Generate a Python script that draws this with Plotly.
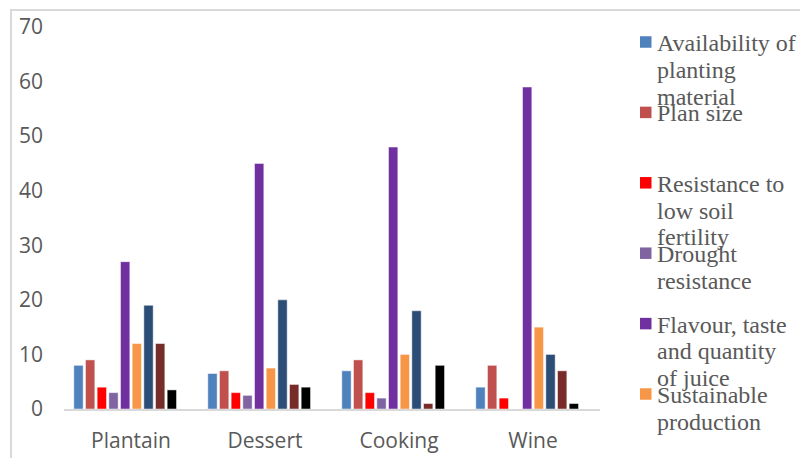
import plotly.graph_objects as go

# Banana varieties and the farmer-preference criteria scored for each
categories = ["Plantain", "Dessert", "Cooking", "Wine"]

availability_of_planting_material = [8, 6.5, 7, 4]
plan_size = [9, 7, 9, 8]
resistance_to_low_soil_fertility = [4, 3, 3, 2]
drought_resistance = [3, 2.5, 2, 0]
flavour_taste_quantity_of_juice = [27, 45, 48, 59]
sustainable_production = [12, 7.5, 10, 15]
series_7 = [19, 20, 18, 10]
series_8 = [12, 4.5, 1, 7]
series_9 = [3.5, 4, 8, 1]
series_10 = [0, 0, 0, 0]

series_values = [
    availability_of_planting_material,
    plan_size,
    resistance_to_low_soil_fertility,
    drought_resistance,
    flavour_taste_quantity_of_juice,
    sustainable_production,
    series_7,
    series_8,
    series_9,
    series_10,
]

series_colors = [
    "#4F81BD", "#C0504D", "#FF0000", "#8064A2", "#7030A0",
    "#F79646", "#2C4D75", "#772C2A", "#000000", "#4BACC6",
]

# Legend text, wrapped as in the side panel
legend_lines = [
    ["Availability of", "planting", "material"],
    ["Plan size"],
    ["Resistance to", "low soil", "fertility"],
    ["Drought", "resistance"],
    ["Flavour, taste", "and quantity", "of juice"],
    ["Sustainable", "production"],
]

y_ticks = [0, 10, 20, 30, 40, 50, 60, 70]

W, H = 800, 458
L, R, T, B = 64, 600, 27, 409


def px_x(p):
    return (p - L) / (R - L)


def px_y(p):
    return (B - p) / (B - T)


fig = go.Figure()
for vals, col in zip(series_values, series_colors):
    fig.add_trace(go.Bar(
        x=categories, y=vals,
        marker=dict(color=col, line=dict(color="rgba(255,255,255,0.6)", width=0.8)),
        showlegend=False,
    ))

grey_text = "#595959"
frame = "#D9D9D9"

shapes = [
    # outer chart frame
    dict(type="rect", xref="paper", yref="paper",
         x0=px_x(11), x1=px_x(W + 20), y0=px_y(H + 20), y1=px_y(10),
         line=dict(color=frame, width=2), layer="below"),
]
annotations = []

entry_top = 42
entry_step = 70.4
line_step = 26.8
for i, lines in enumerate(legend_lines):
    cy = entry_top + i * entry_step
    shapes.append(dict(type="rect", xref="paper", yref="paper",
                       x0=px_x(640), x1=px_x(651.5),
                       y0=px_y(cy + 5.75), y1=px_y(cy - 5.75),
                       fillcolor=series_colors[i], line=dict(width=0)))
    for k, txt in enumerate(lines):
        annotations.append(dict(
            xref="paper", yref="paper", x=px_x(655), y=px_y(cy + 1 + k * line_step),
            xanchor="left", yanchor="middle", text=txt, showarrow=False,
            font=dict(family="Liberation Serif", size=24, color=grey_text),
        ))

fig.update_layout(
    width=W, height=H,
    margin=dict(l=L, r=W - R, t=T, b=H - B, pad=0, autoexpand=False),
    paper_bgcolor="white", plot_bgcolor="white",
    barmode="group", bargap=0.129, bargroupgap=0.2,
    shapes=shapes, annotations=annotations,
    showlegend=False,
    font=dict(family="Open Sans", size=21, color=grey_text),
)
fig.update_xaxes(
    automargin=False,
    showline=True, linecolor=frame, linewidth=1.5,
    showgrid=False, ticks="", ticklabelstandoff=12,
    tickfont=dict(family="Open Sans", size=21, color=grey_text),
)
fig.update_yaxes(
    automargin=False,
    range=[0, 70], tickvals=y_ticks, showgrid=False, zeroline=False,
    showline=False, ticks="", ticklabelstandoff=20,
    tickfont=dict(family="Open Sans", size=21, color=grey_text),
)

fig.write_html("out.html")
